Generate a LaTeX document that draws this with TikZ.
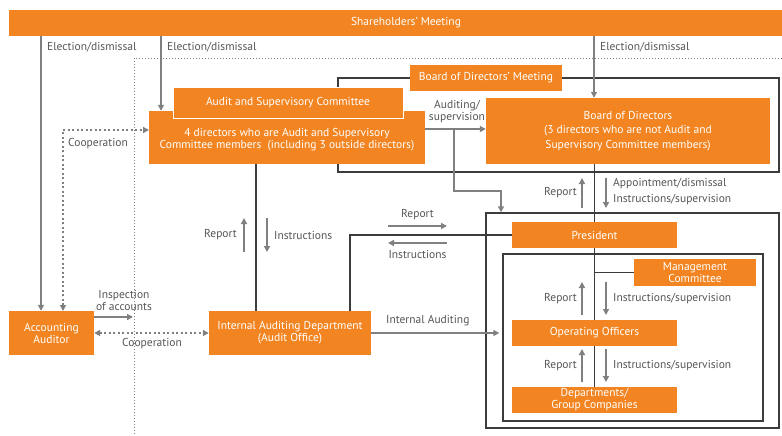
\documentclass[tikz,border=0pt]{standalone}
\usepackage{fontspec}
\setmainfont{PT Sans}
\usetikzlibrary{arrows.meta}
\definecolor{org}{RGB}{242,133,34}
\definecolor{garr}{RGB}{128,128,128}
\definecolor{dln}{RGB}{60,60,60}
\definecolor{txt}{RGB}{85,85,85}
\begin{document}
\begin{tikzpicture}[x=1pt,y=-1pt,
  obox/.style={fill=org, text=white, inner sep=0pt, align=center, font=\fontsize{11.5}{12}\selectfont},
  otext/.style={text=white, inner sep=0pt, align=center, font=\fontsize{11.5}{12}\selectfont},
  frm/.style={draw=dln, line width=1.4pt, inner sep=0pt, fill=none},
  garrow/.style={draw=garr, line width=1.8pt, -{Triangle[length=6pt,width=6pt]}},
  dk/.style={draw=dln, line width=1.4pt},
  coop/.style={draw=garr, line width=2pt, dash pattern=on 2pt off 2.5pt, {Triangle[length=6pt,width=6pt]}-{Triangle[length=6pt,width=6pt]}},
  lbl/.style={text=txt, inner sep=0pt, align=center, font=\fontsize{11.5}{12}\selectfont}
]
\useasboundingbox (0,0) rectangle (782,436);
% dotted frame
\draw[garr, line width=0.6pt, dash pattern=on 1pt off 2pt] (134,440) -- (134,58) -- (790,58);
% frames
\node[frm, minimum width=441pt, minimum height=94pt] (bdm) at (558.5,125) {};
\node[frm, minimum width=293pt, minimum height=215pt] (exec) at (632.5,320.5) {};
\node[frm, minimum width=260pt, minimum height=167pt] (inner) at (633,337.5) {};
% boxes
\node[obox, minimum width=794pt, minimum height=26pt] (sm) at (406,23) {Shareholders’ Meeting};
\node[obox, minimum width=152pt, minimum height=26pt] (bdml) at (486,78) {Board of Directors’ Meeting};
\node[obox, minimum width=276pt, minimum height=53pt,
  label={[otext, yshift=-2.5pt]center:{4 directors who are Audit and Supervisory\\Committee members\ \ (including 3 outside directors)}}] (dir4) at (287,137.5) {};
\node[obox, draw=white, line width=0.8pt, minimum width=230pt, minimum height=31pt] (asc) at (288,102.5) {Audit and Supervisory Committee};
\node[obox, minimum width=284pt, minimum height=66pt] (bod) at (628,131) {Board of Directors\\[2.5pt](3 directors who are not Audit and\\[2.5pt]Supervisory Committee members)};
\node[obox, minimum width=165pt, minimum height=26pt] (pres) at (594.5,235) {President};
\node[obox, minimum width=122pt, minimum height=27pt] (mc) at (695,272.5) {Management\\Committee};
\node[obox, minimum width=165pt, minimum height=26pt] (oo) at (594.5,333) {Operating Officers};
\node[obox, minimum width=165pt, minimum height=26pt] (dept) at (594.5,400) {Departments/\\Group Companies};
\node[obox, minimum width=162pt, minimum height=44pt] (iad) at (290,333) {Internal Auditing Department\\(Audit Office)};
\node[obox, minimum width=85pt, minimum height=44pt] (aa) at (51.5,333) {Accounting\\Auditor};
% dark connector lines
\draw[dk] (bod.south -| pres.north) -- (pres.north);
\draw[dk] (pres.south) -- (oo.north);
\draw[dk] (oo.south) -- (dept.north);
\draw[dk] (mc.west) -- (mc.west -| pres.south);
\coordinate (iadx) at (256,164);
\draw[dk] (iadx) -- (iadx |- iad.north);
\coordinate (px) at (350,311);
\draw[dk] (pres.west) -| (px);
% election arrows
\coordinate (e1) at (41,36);
\coordinate (e2) at (161,36);
\coordinate (e3) at (594,36);
\draw[garrow] (e1) -- (e1 |- aa.north);
\draw[garrow] (e2) -- (e2 |- dir4.north);
\draw[garrow] (e3) -- (e3 |- bod.north);
\node[lbl, anchor=west] (l1) at (47,47) {Election/dismissal};
\node[lbl, anchor=west] (l2) at (167,47) {Election/dismissal};
\node[lbl, anchor=west] (l3) at (600,47) {Election/dismissal};
% auditing/supervision
\coordinate (as) at (425,129);
\coordinate (br) at (454,129);
\coordinate (bt) at (501,191);
\draw[garrow] (as) -- (as -| bod.west);
\draw[garrow] (br) |- (bt) -- (bt |- exec.north);
\node[lbl] (l4) at (457,111.5) {Auditing/\\supervision};
% BoD <-> president
\coordinate (r1a) at (582,208);
\coordinate (r1b) at (582,178);
\coordinate (i1a) at (606,178);
\coordinate (i1b) at (606,208);
\draw[garrow] (r1a) -- (r1b);
\draw[garrow] (i1a) -- (i1b);
\node[lbl, anchor=east] (l5) at (577,193) {Report};
\node[lbl, anchor=west, align=left] (l6) at (613,192) {Appointment/dismissal\\[4pt]Instructions/supervision};
% president <-> operating officers
\coordinate (r2a) at (582,315);
\coordinate (r2b) at (582,282);
\coordinate (i2a) at (606,282);
\coordinate (i2b) at (606,315);
\draw[garrow] (r2a) -- (r2b);
\draw[garrow] (i2a) -- (i2b);
\node[lbl, anchor=east] (l7) at (577,299) {Report};
\node[lbl, anchor=west] (l8) at (613,299) {Instructions/supervision};
% OO <-> departments
\coordinate (r3a) at (582,382);
\coordinate (r3b) at (582,349);
\coordinate (i3a) at (606,349);
\coordinate (i3b) at (606,382);
\draw[garrow] (r3a) -- (r3b);
\draw[garrow] (i3a) -- (i3b);
\node[lbl, anchor=east] (l9) at (577,366) {Report};
\node[lbl, anchor=west] (l10) at (613,366) {Instructions/supervision};
% committee <-> IAD
\coordinate (r4a) at (244,252);
\coordinate (r4b) at (244,218);
\coordinate (i4a) at (267,218);
\coordinate (i4b) at (267,252);
\draw[garrow] (r4a) -- (r4b);
\draw[garrow] (i4a) -- (i4b);
\node[lbl, anchor=east] (l11) at (237,235) {Report};
\node[lbl, anchor=west] (l12) at (274,235) {Instructions};
% president <-> IAD
\coordinate (r5a) at (388,226);
\coordinate (r5b) at (447,226);
\coordinate (i5a) at (447,243);
\coordinate (i5b) at (388,243);
\draw[garrow] (r5a) -- (r5b);
\draw[garrow] (i5a) -- (i5b);
\node[lbl] (l13) at (417.5,215) {Report};
\node[lbl] (l14) at (417.5,254) {Instructions};
% internal auditing
\draw[garrow] (iad.east) -- ([xshift=-3pt]iad.east -| inner.west);
\node[lbl, anchor=west] (l15) at (386,321) {Internal Auditing};
% accounting auditor
\coordinate (ins) at (94,317);
\draw[garrow] (ins) -- (133,317);
\node[lbl] (l16) at (124,300) {Inspection\\of accounts};
\draw[coop] (aa.east) -- (iad.west);
\node[lbl] (l17) at (152,344) {Cooperation};
\coordinate (cv) at (63,311);
\coordinate (ch) at (149,130);
\draw[coop] (cv) |- (ch);
\node[lbl, anchor=west] (l18) at (68,144) {Cooperation};
\end{tikzpicture}
\end{document}
